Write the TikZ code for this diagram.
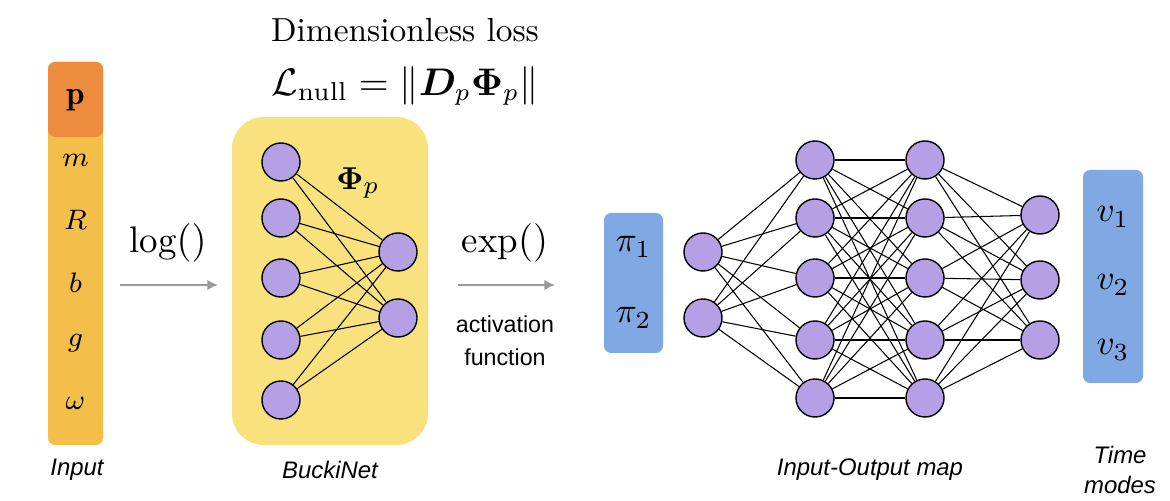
\documentclass[tikz,border=0pt]{standalone}
\usepackage{amsmath,bm}
\usepackage{fontspec}
\usetikzlibrary{arrows.meta}
\newfontfamily\sfx{Liberation Sans}
\pgfdeclarelayer{bg}\pgfdeclarelayer{wires}
\pgfsetlayers{bg,wires,main}
\begin{document}
\begin{tikzpicture}[x=0.01cm,y=-0.01cm,
  neu/.style={circle,draw=black,line width=0.4pt,fill=nodepurple,minimum size=0.38cm,inner sep=0pt},
  lab/.style={font=\sfx\itshape\fontsize{6.8}{8.5}\selectfont},
  arr/.style={draw=gray!80,line width=0.7pt,-{Latex[length=3pt,width=3pt]}},
  wire/.style={line width=0.3pt}]
\definecolor{nodepurple}{HTML}{B5A0E6}
\definecolor{inorange}{HTML}{F3BE4A}
\definecolor{porange}{HTML}{EE8C3E}
\definecolor{boxyellow}{HTML}{F9E27E}
\definecolor{boxblue}{HTML}{80A8E2}
\useasboundingbox (0,0) rectangle (1170,501);
% input column
\fill[inorange,rounded corners=2pt] (48,62) rectangle (103,445);
\fill[porange,rounded corners=2pt] (48,62) rectangle (103,137);
\node (p) at (75.5,100) {\fontsize{9.5}{10}\selectfont$\mathbf{p}$};
\foreach \t/\yy/\n in {m/160/i1,R/220/i2,b/283/i3,g/343/i4,\omega/403/i5}
  \node (\n) at (75.5,\yy) {\fontsize{8}{9}\selectfont$\t$};
\node[lab] (tin) at (77,470) {Input};
% log arrow
\coordinate (l0) at (120,285); \coordinate (l1) at (218,285);
\draw[arr] (l0) -- (l1);
\node (log) at (168,243) {\fontsize{10.5}{11}\selectfont$\log()$};
% yellow box
\begin{pgfonlayer}{bg}
\fill[boxyellow,rounded corners=9pt] (232,117) rectangle (428,445);
\end{pgfonlayer}
\node (t1) at (405,30) {\fontsize{9.5}{10}\selectfont Dimensionless loss};
\node (t2) at (405,86) {\fontsize{10.5}{11}\selectfont$\mathcal{L}_{\text{null}}=\|\bm{D}_p\bm{\Phi}_p\|$};
\node (phi) at (358,183) {\fontsize{9.5}{10}\selectfont$\bm{\Phi}_p$};
\foreach \yy [count=\i] in {162,218,278,340,400} \node[neu] (a\i) at (281,\yy) {};
\foreach \yy [count=\i] in {252,318} \node[neu] (b\i) at (398,\yy) {};
\begin{pgfonlayer}{wires}
\foreach \i in {1,...,5}\foreach \j in {1,2} \draw[wire] (a\i) -- (b\j);
\end{pgfonlayer}
\node[lab] (tbu) at (330,470) {BuckiNet};
% exp arrow
\coordinate (e0) at (458,285); \coordinate (e1) at (555,285);
\draw[arr] (e0) -- (e1);
\node (exp) at (505,243) {\fontsize{10.5}{11}\selectfont$\exp()$};
\node[font=\sfx\fontsize{6.6}{9.5}\selectfont,align=center] (act) at (505,341) {activation\\function};
% pi box
\fill[boxblue,rounded corners=2pt] (604,213) rectangle (663,353);
\node (pi1) at (633.5,247) {\fontsize{10}{10}\selectfont$\pi_1$};
\node (pi2) at (633.5,318) {\fontsize{10}{10}\selectfont$\pi_2$};
% network
\foreach \yy [count=\i] in {252,318} \node[neu] (c\i) at (703,\yy) {};
\foreach \yy [count=\i] in {160,218,278,340,398} \node[neu] (d\i) at (815,\yy) {};
\foreach \yy [count=\i] in {160,218,278,340,398} \node[neu] (f\i) at (925,\yy) {};
\foreach \yy [count=\i] in {215,280,340} \node[neu] (g\i) at (1040,\yy) {};
\begin{pgfonlayer}{wires}
\foreach \i in {1,2}\foreach \j in {1,...,5} \draw[wire] (c\i) -- (d\j);
\foreach \i in {1,...,5}\foreach \j in {1,...,5} \draw[wire] (d\i) -- (f\j);
\foreach \i in {1,...,5}\foreach \j in {1,2,3} \draw[wire] (f\i) -- (g\j);
\end{pgfonlayer}
\node[lab] (tio) at (870,470) {Input-Output map};
% v box
\fill[boxblue,rounded corners=2pt] (1083,170) rectangle (1143,383);
\node (v1) at (1113,217) {\fontsize{10}{10}\selectfont$v_1$};
\node (v2) at (1113,285) {\fontsize{10}{10}\selectfont$v_2$};
\node (v3) at (1113,350) {\fontsize{10}{10}\selectfont$v_3$};
\node[lab,align=center] (tm) at (1120,470) {Time\\modes};
\end{tikzpicture}
\end{document}
